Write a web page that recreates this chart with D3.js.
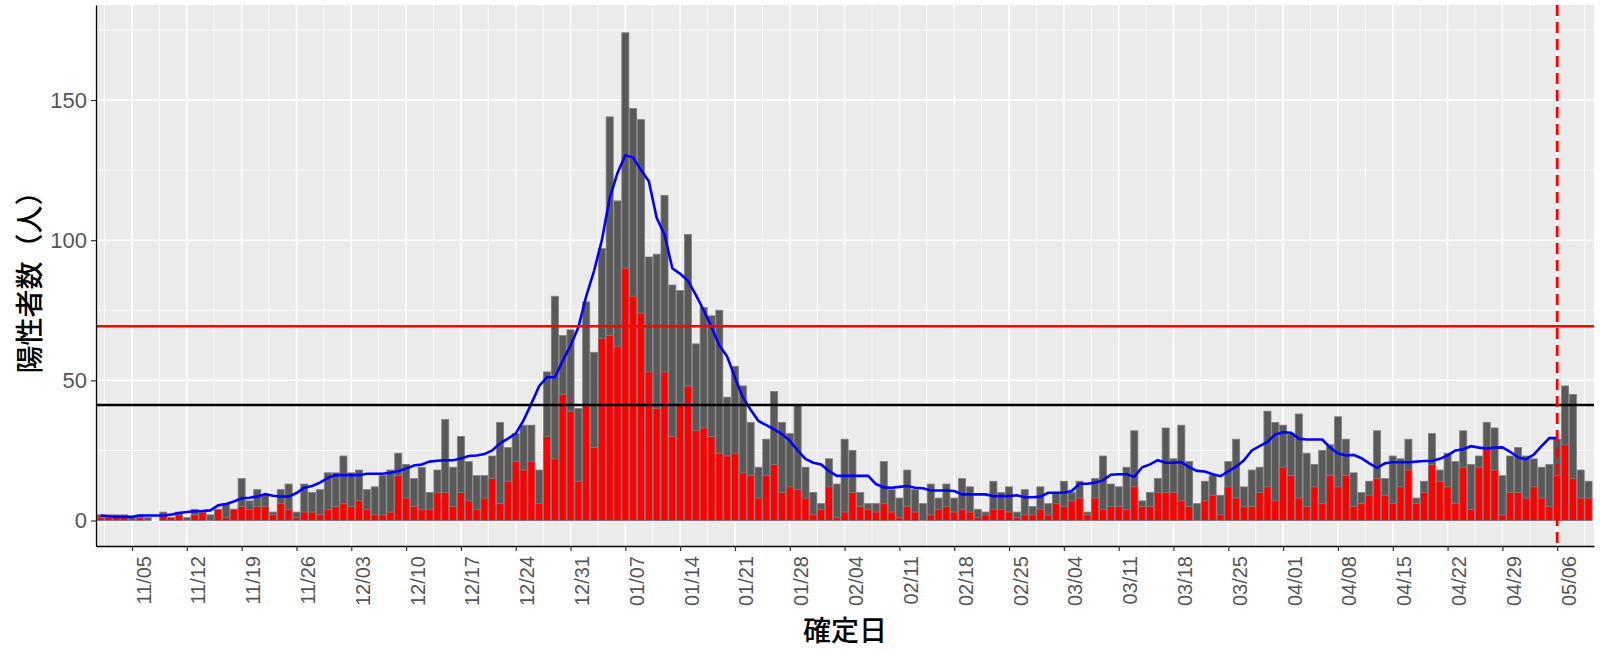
<!DOCTYPE html>
<html><head><meta charset="utf-8">
<script src="https://cdn.jsdelivr.net/npm/d3@7"></script>
<style>body{margin:0;background:#fff}</style>
</head><body><svg id="c" width="1600" height="650"></svg>
<script>
const dates = ["11/01","11/02","11/03","11/04","11/05","11/06","11/07","11/08","11/09","11/10","11/11","11/12","11/13","11/14","11/15","11/16","11/17","11/18","11/19","11/20","11/21","11/22","11/23","11/24","11/25","11/26","11/27","11/28","11/29","11/30",
"12/01","12/02","12/03","12/04","12/05","12/06","12/07","12/08","12/09","12/10","12/11","12/12","12/13","12/14","12/15","12/16","12/17","12/18","12/19","12/20","12/21","12/22","12/23","12/24","12/25","12/26","12/27","12/28","12/29","12/30","12/31",
"01/01","01/02","01/03","01/04","01/05","01/06","01/07","01/08","01/09","01/10","01/11","01/12","01/13","01/14","01/15","01/16","01/17","01/18","01/19","01/20","01/21","01/22","01/23","01/24","01/25","01/26","01/27","01/28","01/29","01/30","01/31",
"02/01","02/02","02/03","02/04","02/05","02/06","02/07","02/08","02/09","02/10","02/11","02/12","02/13","02/14","02/15","02/16","02/17","02/18","02/19","02/20","02/21","02/22","02/23","02/24","02/25","02/26","02/27","02/28",
"03/01","03/02","03/03","03/04","03/05","03/06","03/07","03/08","03/09","03/10","03/11","03/12","03/13","03/14","03/15","03/16","03/17","03/18","03/19","03/20","03/21","03/22","03/23","03/24","03/25","03/26","03/27","03/28","03/29","03/30","03/31",
"04/01","04/02","04/03","04/04","04/05","04/06","04/07","04/08","04/09","04/10","04/11","04/12","04/13","04/14","04/15","04/16","04/17","04/18","04/19","04/20","04/21","04/22","04/23","04/24","04/25","04/26","04/27","04/28","04/29","04/30",
"05/01","05/02","05/03","05/04","05/05","05/06","05/07","05/08","05/09","05/10"];

const totalCases = [2,2,2,2,1,2,1,0,3,1,3,1,4,3,2,4,6,4,15,7,11,9,3,11,13,3,13,10,11,17,
17,23,17,18,11,12,16,18,24,20,15,19,10,18,36,19,30,21,16,16,23,35,26,31,34,34,18,53,80,66,68,
40,78,60,97,144,114,174,147,143,94,95,116,84,82,102,63,76,73,75,44,55,48,35,19,29,46,35,31,41,19,10,
6,22,13,29,25,10,6,6,21,11,8,18,11,6,13,8,13,8,15,12,4,3,14,10,12,3,11,5,
12,6,10,14,10,14,3,15,23,13,12,19,32,7,10,15,33,22,34,21,6,14,16,9,21,29,12,18,19,39,35,
34,31,38,24,20,25,27,37,29,17,10,14,32,15,23,22,29,8,14,31,18,24,21,32,20,23,35,33,16,23,
26,23,22,19,20,29,48,45,18,14];

const redCases = [1,1,1,1,0,1,0,0,2,1,2,0,2,3,0,4,1,4,5,4,5,5,2,6,4,1,3,3,2,4,
5,6,5,7,4,2,2,3,16,8,5,4,4,10,10,5,10,7,4,8,15,6,14,21,18,21,6,30,22,45,39,
14,41,26,65,66,62,90,80,74,53,40,53,30,42,48,32,33,30,24,23,24,17,16,8,16,20,10,12,11,8,2,
4,12,1,3,10,5,4,3,6,3,1,5,3,0,2,4,5,3,4,3,1,2,4,4,3,1,2,2,
4,2,6,5,7,8,2,8,4,5,5,4,12,5,5,10,10,10,7,5,0,7,9,2,12,8,5,5,10,12,7,
19,16,8,5,12,6,16,12,16,5,6,9,15,9,6,12,18,6,10,20,14,12,6,19,4,19,26,18,2,10,
10,8,12,8,5,16,27,15,8,8];

const avg7 = [1.8,1.5,1.3,1.3,1.3,1.8,1.8,1.8,1.8,2.1,2.7,3.0,3.3,3.4,3.6,5.4,5.9,6.8,7.9,8.1,8.6,9.4,8.8,8.5,8.5,9.8,11.7,12.3,13.5,15.2,
16.2,16.2,16.2,16.2,16.7,16.7,16.7,17.0,17.6,18.5,19.6,20.0,21.0,21.3,21.5,21.5,22.1,23.0,23.2,23.7,25.0,27.5,29.2,31.0,35.7,41.7,48.0,51.1,51.1,57.0,62.4,
68.9,80.0,89.0,100.0,115.0,124.0,130.3,129.5,125.0,121.0,108.0,102.0,90.0,88.0,85.5,80.5,75.0,69.0,62.5,58.5,51.0,44.0,39.5,35.5,34.0,32.5,30.8,28.5,25.0,22.0,20.6,
20.0,17.7,15.9,15.9,15.9,15.9,15.9,13.0,11.8,11.7,12.0,12.3,11.7,11.5,10.7,10.7,10.7,10.5,9.3,9.3,9.3,9.3,8.7,8.7,8.7,9.0,8.3,8.3,
8.5,9.9,9.9,9.9,10.5,13.1,13.1,13.5,14.3,16.3,16.5,16.5,15.6,19.0,20.0,21.5,20.6,20.6,20.8,19.0,17.7,17.5,16.5,15.8,17.5,19.2,21.5,25.0,26.5,28.0,30.7,
31.5,31.3,29.2,28.9,28.9,28.9,26.0,24.0,23.2,23.4,22.2,20.4,18.8,20.4,20.8,20.8,20.8,21.0,21.2,21.2,22.0,23.2,25.0,25.4,26.5,26.0,25.7,26.0,26.1,24.5,
22.5,21.8,23.5,26.5,29.4,29.4,null,null,null,null];

const tickLabels = ["11/05","11/12","11/19","11/26","12/03","12/10","12/17","12/24","12/31","01/07","01/14","01/21","01/28","02/04","02/11","02/18","02/25","03/04","03/11","03/18","03/25","04/01","04/08","04/15","04/22","04/29","05/06"];
const yTicks = [0,50,100,150];
const yMinor = [25,75,125,175];
const redLineValue = 69.3;
const blackLineValue = 41.2;
const markerDate = "05/06";

const DAY = 86400000;
const toDate = s => { const [m,d] = s.split('/').map(Number); return new Date(Date.UTC(m >= 11 ? 2020 : 2021, m-1, d)); };
const data = dates.map((s,i) => ({date: toDate(s), total: totalCases[i], red: redCases[i], avg: avg7[i]}));

const svg = d3.select('#c');
svg.append('rect').attr('width',1600).attr('height',650).attr('fill','#fff');

const L = 96, R = 1594, T = 5, B = 546;
const ref = toDate("11/05");
const x = d3.scaleUtc().domain([new Date(+ref - 4.6*DAY), new Date(+ref + 186.7*DAY)]).range([L, R]);
const y = d3.scaleLinear().domain([-9.1, 183.9]).range([B, T]);

svg.append('rect').attr('x',L).attr('y',T).attr('width',R-L).attr('height',B-T).attr('fill','#EBEBEB');
const g = svg.append('g');
const tickDates = tickLabels.map(toDate);
const minorDates = [new Date(+tickDates[0] - 3.5*DAY)].concat(tickDates.map(d => new Date(+d + 3.5*DAY)));
g.selectAll('.vmin').data(minorDates).join('line').attr('x1',d=>x(d)).attr('x2',d=>x(d)).attr('y1',T).attr('y2',B).attr('stroke','#fff').attr('stroke-width',0.8);
g.selectAll('.hmin').data(yMinor).join('line').attr('x1',L).attr('x2',R).attr('y1',d=>y(d)).attr('y2',d=>y(d)).attr('stroke','#fff').attr('stroke-width',0.8);
g.selectAll('.vmaj').data(tickDates).join('line').attr('x1',d=>x(d)).attr('x2',d=>x(d)).attr('y1',T).attr('y2',B).attr('stroke','#fff').attr('stroke-width',1.5);
g.selectAll('.hmaj').data(yTicks).join('line').attr('x1',L).attr('x2',R).attr('y1',d=>y(d)).attr('y2',d=>y(d)).attr('stroke','#fff').attr('stroke-width',1.5);

const bw = x(new Date(+ref + 0.9*DAY)) - x(ref);
g.selectAll('.gb').data(data).join('rect')
  .attr('x', d => x(d.date) - bw/2).attr('width', bw)
  .attr('y', d => y(d.total)).attr('height', d => y(0) - y(d.total))
  .attr('fill','#595959').attr('stroke','#7f7f7f').attr('stroke-width',0.8);
g.selectAll('.rb').data(data.filter(d => d.red > 0)).join('rect')
  .attr('x', d => x(d.date) - bw/2).attr('width', bw)
  .attr('y', d => y(d.red)).attr('height', d => y(0) - y(d.red))
  .attr('fill','#FF0000').attr('stroke','#7f7f7f').attr('stroke-width',0.8);

const line = d3.line().defined(d => d.avg != null).x(d => x(d.date)).y(d => y(d.avg));
g.append('path').datum(data).attr('d', line).attr('fill','none').attr('stroke','#0000FF').attr('stroke-width',2.6);

g.append('line').attr('x1',L).attr('x2',R).attr('y1',y(redLineValue)).attr('y2',y(redLineValue)).attr('stroke','#FF0000').attr('stroke-width',2.6);
g.append('line').attr('x1',L).attr('x2',R).attr('y1',y(blackLineValue)).attr('y2',y(blackLineValue)).attr('stroke','#000').attr('stroke-width',2.6);
const mx = x(toDate(markerDate));
g.append('line').attr('x1',mx).attr('x2',mx).attr('y1',T).attr('y2',B).attr('stroke','#FF0000').attr('stroke-width',2.8).attr('stroke-dasharray','11,6');

const yAxis = svg.append('g').attr('transform',`translate(${L},0)`)
  .call(d3.axisLeft(y).tickValues(yTicks).tickSize(5).tickSizeOuter(0).tickPadding(4));
yAxis.select('.domain').attr('stroke','#000').attr('stroke-width',1.3);
yAxis.selectAll('.tick line').attr('stroke','#333').attr('stroke-width',1.2);
yAxis.selectAll('.tick text').attr('font-family','Liberation Sans, Arial, sans-serif').attr('font-size',22).attr('fill','#555');

const xAxis = svg.append('g').attr('transform',`translate(0,${B})`)
  .call(d3.axisBottom(x).tickValues(tickDates).tickFormat((d,i)=>tickLabels[i]).tickSize(5).tickSizeOuter(0));
xAxis.select('.domain').attr('stroke','#000').attr('stroke-width',1.3);
xAxis.selectAll('.tick line').attr('stroke','#333').attr('stroke-width',1.2);
xAxis.selectAll('.tick text')
  .attr('font-family','Liberation Sans, Arial, sans-serif').attr('font-size',20).attr('fill','#555')
  .attr('text-anchor','end').attr('transform','translate(0,10) rotate(-90)')
  .attr('x',0).attr('y',0).attr('dy','0.9em');

svg.append('text').attr('x',(L+R)/2).attr('y',641).attr('text-anchor','middle')
  .attr('font-family','Noto Sans CJK JP').attr('font-weight',500).attr('font-size',28).attr('fill','#000').text('確定日');
svg.append('text').attr('transform',`translate(40,${(T+B)/2}) rotate(-90)`).attr('text-anchor','middle')
  .attr('font-family','Noto Sans CJK JP').attr('font-weight',500).attr('font-size',28).attr('fill','#000').text('陽性者数（人）');
</script></body></html>
